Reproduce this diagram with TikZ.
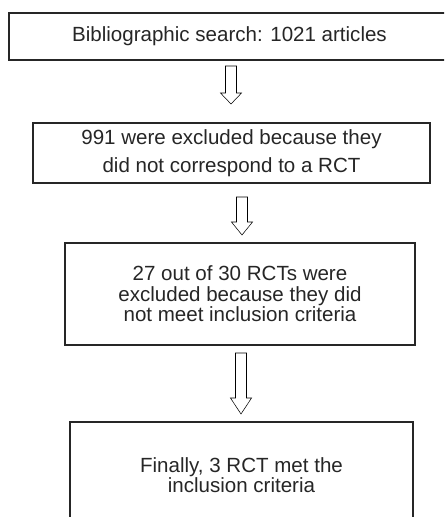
\documentclass[tikz,border=0pt]{standalone}
\usepackage{fontspec}
\setmainfont{Liberation Sans}
\usetikzlibrary{calc}
\begin{document}
\begin{tikzpicture}[x=0.75pt,y=-0.75pt,
  box/.style={draw=black!85, line width=1.8pt, align=center, inner sep=0pt,
    text=black!85, font=\fontsize{15.4}{15.4}\selectfont},
  blockarrow/.style={draw=black!85, line width=1.4pt, line join=miter,
    to path={let \p1=(\tikztostart), \p2=(\tikztotarget) in
      -- (\x1+4.125pt,\y1) -- (\x1+4.125pt,\y2+#1) -- (\x1+7.9pt,\y2+#1)
      -- (\x1,\y2) -- (\x1-7.9pt,\y2+#1) -- (\x1-4.125pt,\y2+#1)
      -- (\x1-4.125pt,\y1) -- cycle}}]
\useasboundingbox (0,0) rectangle (444,517);
\clip (0,0) rectangle (444,517);
\fill[white] (0,0) rectangle (444,517);

\node[box, minimum width=330.75pt, minimum height=35.25pt] (b1) at (229.5,36.5)
  {Bibliographic search: 1021 articles};
\node[box, minimum width=297.75pt, minimum height=45pt,
  font=\fontsize{15.4}{21}\selectfont] (b2) at (231.5,153)
  {991 were excluded because they\\did not correspond to a RCT};
\node[box, minimum width=262.5pt, minimum height=76.5pt] (b3) at (240,294)
  {27 out of 30 RCTs were\\excluded because they did\\not meet inclusion criteria};
\node[box, minimum width=257.25pt, minimum height=79.5pt] (b4) at (241.5,475)
  {Finally, 3 RCT met the\\inclusion criteria};

\coordinate (a1s) at (231,66);  \coordinate (a1e) at (231,104);
\coordinate (a2s) at (242,197); \coordinate (a2e) at (242,235);
\coordinate (a3s) at (241,353); \coordinate (a3e) at (241,414);
\draw (a1s) to[blockarrow=8.25pt] (a1e);
\draw (a2s) to[blockarrow=9.75pt] (a2e);
\draw (a3s) to[blockarrow=12pt] (a3e);
\end{tikzpicture}
\end{document}
